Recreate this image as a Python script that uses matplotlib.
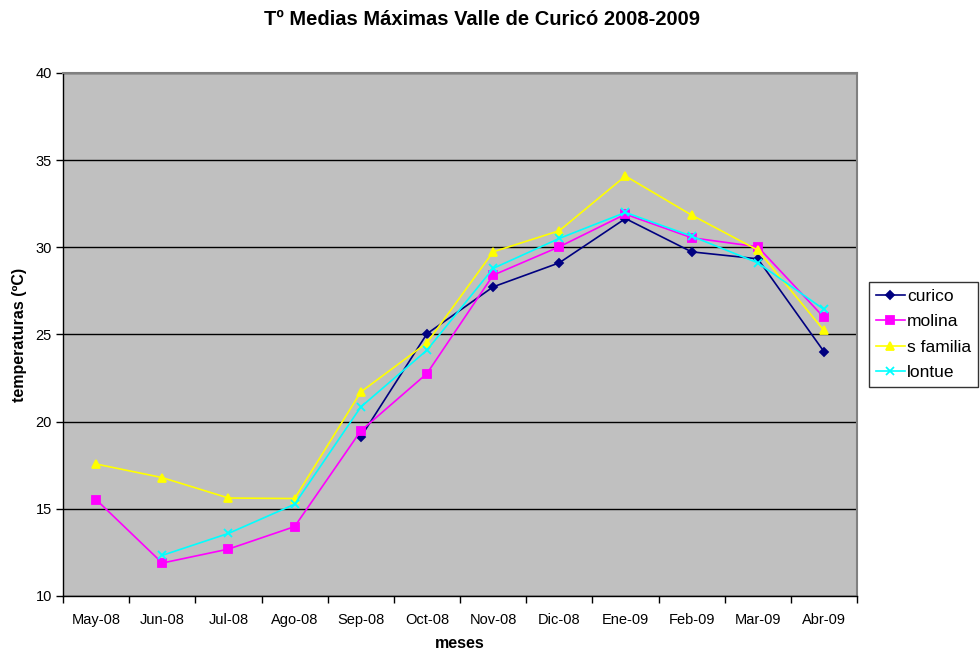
import numpy as np
import matplotlib
matplotlib.use("Agg")
import matplotlib.pyplot as plt
from matplotlib.ticker import FixedLocator, NullFormatter

plt.rcParams['font.family'] = ['Liberation Sans', 'DejaVu Sans']

meses = ["May-08", "Jun-08", "Jul-08", "Ago-08", "Sep-08", "Oct-08",
         "Nov-08", "Dic-08", "Ene-09", "Feb-09", "Mar-09", "Abr-09"]

nan = np.nan
curico = [nan, nan, nan, nan, 19.12, 25.04, 27.73, 29.11, 31.65, 29.74, 29.34, 24.02]
molina = [15.53, 11.89, 12.69, 13.98, 19.47, 22.76, 28.40, 30.03, 31.90, 30.55, 30.03, 25.98]
s_familia = [17.57, 16.79, 15.62, 15.59, 21.70, 24.52, 29.74, 30.95, 34.09, 31.85, 29.84, 25.23]
lontue = [nan, 12.33, 13.59, 15.26, 20.84, 24.10, 28.79, 30.51, 32.00, 30.64, 29.11, 26.44]

series = [
    ("curico", curico, "#000080", "D", 4.5),
    ("molina", molina, "#FF00FF", "s", 5.3),
    ("s familia", s_familia, "#FFFF00", "^", 6.0),
    ("lontue", lontue, "#00FFFF", "x", 6.0),
]

fig = plt.figure(figsize=(9.8, 6.51), dpi=100)
ax = fig.add_axes([0.0643, 0.0845, 0.8102, 0.8034])
ax.set_facecolor("#C0C0C0")

x = np.arange(len(meses))
for name, vals, color, marker, ms in series:
    ax.plot(x, vals, color=color, marker=marker, markersize=ms, linewidth=1.2,
            markeredgecolor=color, markerfacecolor=color, markeredgewidth=1.3,
            label=name, zorder=3)

ax.set_xlim(-0.5, len(meses) - 0.5)
ax.set_ylim(10, 40)
ax.set_yticks(np.arange(10, 41, 5))
ax.yaxis.grid(True, color="black", linewidth=1.0)
ax.set_axisbelow(True)

ax.set_xticks(x)
ax.set_xticklabels(meses)
ax.tick_params(axis="x", which="major", length=0, pad=12, labelsize=10.5)
ax.xaxis.set_minor_locator(FixedLocator(np.arange(-0.5, len(meses), 1.0)))
ax.xaxis.set_minor_formatter(NullFormatter())
ax.tick_params(axis="x", which="minor", length=5, width=1, color="black", direction="out")
ax.tick_params(axis="y", length=5, width=1, direction="out", labelsize=10.5, pad=3)

for side in ("left", "bottom"):
    ax.spines[side].set_color("black")
    ax.spines[side].set_linewidth(1.0)
for side in ("top", "right"):
    ax.spines[side].set_color("#808080")
    ax.spines[side].set_linewidth(1.5)

# x-axis title sits right at the bottom edge, centred under the plot area
fig.text(0.4694, 2.5 / 651, "meses", fontsize=11.5, fontweight="bold",
         ha="center", va="baseline")
ax.set_ylabel("temperaturas (ºC)", fontsize=11.5, fontweight="bold", labelpad=6)
fig.suptitle("Tº Medias Máximas Valle de Curicó 2008-2009", fontsize=14.5,
             fontweight="bold", x=0.4923, y=0.985)

leg = ax.legend(loc="center left", bbox_to_anchor=(1.015, 0.5), fontsize=12.5,
                frameon=True, fancybox=False, borderpad=0.4, labelspacing=0.6,
                handlelength=1.65, handletextpad=0.15, borderaxespad=0)
leg.get_frame().set_edgecolor("black")
leg.get_frame().set_linewidth(1.0)

fig.savefig("out.png", dpi=100, facecolor="white")
